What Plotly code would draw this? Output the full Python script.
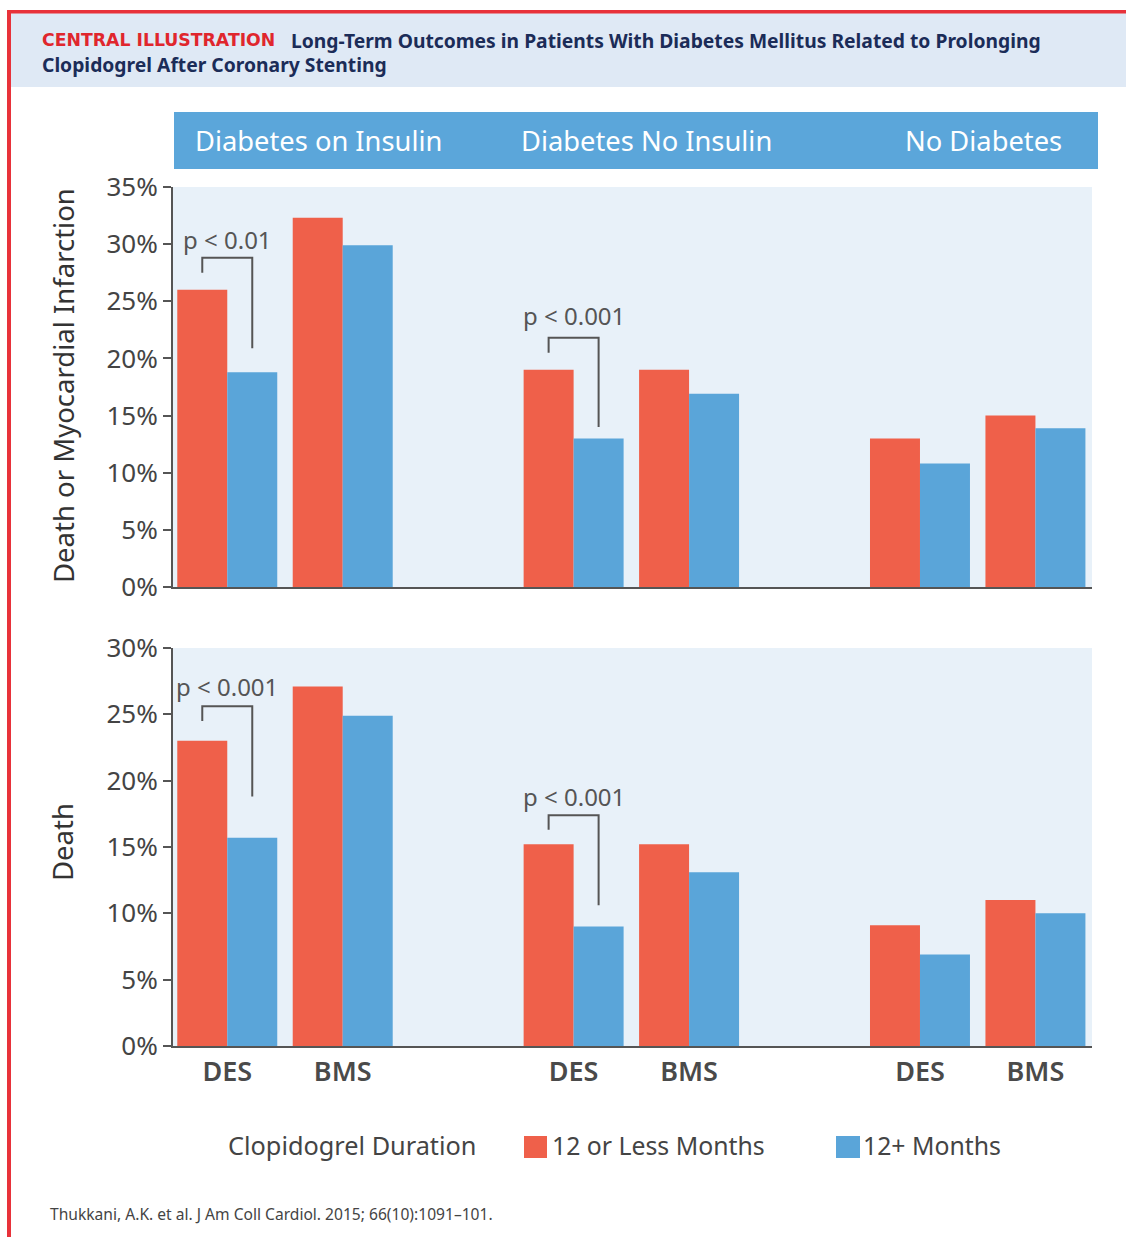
import plotly.graph_objects as go

# ---------------- data ----------------
groups = ["Diabetes on Insulin", "Diabetes No Insulin", "No Diabetes"]
stents = ["DES", "BMS"]
series_names = ["12 or Less Months", "12+ Months"]

dmi_12_or_less = [26.0, 32.3, 19.0, 19.0, 13.0, 15.0]
dmi_12_plus = [18.8, 29.9, 13.0, 16.9, 10.8, 13.9]
death_12_or_less = [23.0, 27.1, 15.2, 15.2, 9.1, 11.0]
death_12_plus = [15.7, 24.9, 9.0, 13.1, 6.9, 10.0]

top_ticks = [0, 5, 10, 15, 20, 25, 30, 35]
bottom_ticks = [0, 5, 10, 15, 20, 25, 30]

# p-value brackets: (group index, label, top, left leg bottom, right leg bottom, label y)
dmi_brackets = [(0, "p < 0.01", 28.8, 27.5, 20.9, 30.4),
                (1, "p < 0.001", 21.8, 20.5, 14.0, 23.8)]
death_brackets = [(0, "p < 0.001", 25.6, 24.5, 18.8, 27.1),
                  (1, "p < 0.001", 17.4, 16.3, 10.6, 18.8)]

# ---------------- styling ----------------
W, H = 1126, 1237
RED = "#ef604a"
BLUE = "#5aa5d9"
AXC = "#555555"
TXT = "#444444"
FONT = "Noto Sans"

# category slot positions (gap slot between groups)
slots = [g * 3 + s for g in range(len(groups)) for s in range(len(stents))]
labels = [s for g in groups for s in stents]
BARGAP = 0.134
half_bar = (1 - BARGAP) / 4.0


def px(x):
    return x / W


def py(y):
    return 1 - y / H


fig = go.Figure()
for xa, ya, red_vals, blue_vals in [("x", "y", dmi_12_or_less, dmi_12_plus),
                                    ("x2", "y2", death_12_or_less, death_12_plus)]:
    fig.add_trace(go.Bar(x=slots, y=red_vals, name=series_names[0], marker_color=RED,
                         marker_line_width=0, xaxis=xa, yaxis=ya, showlegend=False))
    fig.add_trace(go.Bar(x=slots, y=blue_vals, name=series_names[1], marker_color=BLUE,
                         marker_line_width=0, xaxis=xa, yaxis=ya, showlegend=False))

x_dom = [px(173), px(1092)]
x_rng = [-0.47, 7.49]
yaxis_common = dict(ticks="outside", ticklen=8, tickwidth=2, tickcolor=AXC,
                    showline=True, linecolor=AXC, linewidth=2, showgrid=False,
                    zeroline=False, automargin=False,
                    tickfont=dict(family=FONT, size=26, color=TXT))

fig.update_layout(
    width=W, height=H, margin=dict(l=0, r=0, t=0, b=0, pad=0, autoexpand=False),
    showlegend=False,
    paper_bgcolor="white", plot_bgcolor="#e8f1f9",
    barmode="group", bargap=BARGAP, bargroupgap=0,
    xaxis=dict(domain=x_dom, range=x_rng, anchor="y", showticklabels=False,
               showline=True, linecolor=AXC, linewidth=2, showgrid=False, zeroline=False,
               ticks="", automargin=False),
    yaxis=dict(domain=[py(587), py(187)], range=[0, 35], tickvals=top_ticks,
               ticktext=[f"{v}%" for v in top_ticks], anchor="x", **yaxis_common),
    xaxis2=dict(domain=x_dom, range=x_rng, anchor="y2", tickvals=slots, ticktext=labels,
                showline=True, linecolor=AXC, linewidth=2, showgrid=False, zeroline=False,
                ticks="", ticklabelstandoff=1, automargin=False,
                tickfont=dict(family=FONT, size=27, color="#4a4a4a", weight=600)),
    yaxis2=dict(domain=[py(1046), py(648)], range=[0, 30], tickvals=bottom_ticks,
                ticktext=[f"{v}%" for v in bottom_ticks], anchor="x2", **yaxis_common),
)

shapes = []
annotations = []

# frame and header bands
shapes.append(dict(type="rect", xref="paper", yref="paper", x0=px(11), x1=1,
                   y0=py(87), y1=py(13), fillcolor="#dfe9f5", line_width=0, layer="below"))
shapes.append(dict(type="rect", xref="paper", yref="paper", x0=px(7), x1=1,
                   y0=py(13.5), y1=py(10), fillcolor="#e8323a", line_width=0))
shapes.append(dict(type="rect", xref="paper", yref="paper", x0=px(7), x1=px(11),
                   y0=0, y1=py(10), fillcolor="#e8323a", line_width=0))
shapes.append(dict(type="rect", xref="paper", yref="paper", x0=px(174), x1=px(1098),
                   y0=py(169), y1=py(112), fillcolor="#5ba6da", line_width=0))

annotations.append(dict(text="<b>CENTRAL ILLUSTRATION</b>", x=px(40), y=py(40),
                        xref="paper", yref="paper", xanchor="left", yanchor="middle",
                        showarrow=False, font=dict(family="DejaVu Sans", size=17.3, color="#e0262d")))
annotations.append(dict(text="<b>Long-Term Outcomes in Patients With Diabetes Mellitus Related to Prolonging</b>",
                        x=px(289), y=py(40), xref="paper", yref="paper", xanchor="left",
                        yanchor="middle", showarrow=False,
                        font=dict(family=FONT, size=19.3, color="#1b2c58")))
annotations.append(dict(text="<b>Clopidogrel After Coronary Stenting</b>",
                        x=px(40), y=py(64), xref="paper", yref="paper", xanchor="left",
                        yanchor="middle", showarrow=False,
                        font=dict(family=FONT, size=19.3, color="#1b2c58")))

# group header texts
hdr_font = dict(family=FONT, size=27.3, color="white")
annotations.append(dict(text=groups[0], x=px(193), y=py(141), xref="paper", yref="paper",
                        xanchor="left", yanchor="middle", showarrow=False, font=hdr_font))
annotations.append(dict(text=groups[1], x=px(519), y=py(141), xref="paper", yref="paper",
                        xanchor="left", yanchor="middle", showarrow=False, font=hdr_font))
annotations.append(dict(text=groups[2], x=px(1064), y=py(141), xref="paper", yref="paper",
                        xanchor="right", yanchor="middle", showarrow=False, font=hdr_font))

# y titles
annotations.append(dict(text="Death or Myocardial Infarction", x=px(63), y=py(386),
                        xref="paper", yref="paper", textangle=-90, showarrow=False,
                        xanchor="center", yanchor="middle",
                        font=dict(family=FONT, size=27.5, color="#333333")))
annotations.append(dict(text="Death", x=px(63), y=py(842),
                        xref="paper", yref="paper", textangle=-90, showarrow=False,
                        xanchor="center", yanchor="middle",
                        font=dict(family=FONT, size=27.5, color="#333333")))

# p-value brackets
for xa, ya, brs in [("x", "y", dmi_brackets), ("x2", "y2", death_brackets)]:
    for g, label, top, lb, rb, ly in brs:
        c = slots[g * 2]
        xl, xr = c - half_bar, c + half_bar
        path = f"M {xl},{lb} L {xl},{top} L {xr},{top} L {xr},{rb}"
        shapes.append(dict(type="path", xref=xa, yref=ya, path=path,
                           line=dict(color=AXC, width=2)))
        annotations.append(dict(text=label, x=c, y=ly, xref=xa, yref=ya, showarrow=False,
                                xanchor="center", yanchor="middle",
                                font=dict(family=FONT, size=24, color="#555555")))

# legend
leg_font = dict(family=FONT, size=25.3, color=TXT)
annotations.append(dict(text="Clopidogrel Duration", x=px(478), y=py(1145), xref="paper",
                        yref="paper", xanchor="right", yanchor="middle", showarrow=False,
                        font=leg_font))
shapes.append(dict(type="rect", xref="paper", yref="paper", x0=px(524), x1=px(547),
                   y0=py(1158), y1=py(1136), fillcolor=RED, line_width=0))
annotations.append(dict(text=series_names[0], x=px(550), y=py(1145), xref="paper",
                        yref="paper", xanchor="left", yanchor="middle", showarrow=False,
                        font=dict(family=FONT, size=24.8, color=TXT)))
shapes.append(dict(type="rect", xref="paper", yref="paper", x0=px(836), x1=px(860),
                   y0=py(1158), y1=py(1136), fillcolor=BLUE, line_width=0))
annotations.append(dict(text=series_names[1], x=px(861), y=py(1145), xref="paper",
                        yref="paper", xanchor="left", yanchor="middle", showarrow=False,
                        font=dict(family=FONT, size=24.8, color=TXT)))

# citation
annotations.append(dict(text="Thukkani, A.K. et al. J Am Coll Cardiol. 2015; 66(10):1091\u2013101.",
                        x=px(48), y=py(1214), xref="paper", yref="paper", xanchor="left",
                        yanchor="middle", showarrow=False,
                        font=dict(family=FONT, size=15.6, color=TXT)))

fig.update_layout(shapes=shapes, annotations=annotations)
fig.write_html("out.html")
